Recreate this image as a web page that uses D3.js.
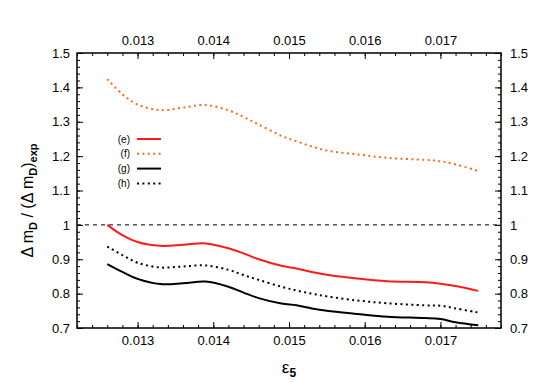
<!DOCTYPE html>
<html>
<head>
<meta charset="utf-8">
<script src="https://cdn.jsdelivr.net/npm/d3@7"></script>
<style>
  body { margin: 0; background: #fff; }
  svg { font-family: "Liberation Sans", Arial, sans-serif; }
</style>
</head>
<body>
<div id="chart"></div>
<script>
// data
const eps5 = [0.0126, 0.0128, 0.0130, 0.0133, 0.0136, 0.0139, 0.0142, 0.0144, 0.0146,
              0.0149, 0.0151, 0.0153, 0.0155, 0.0159, 0.0163, 0.0168, 0.0170, 0.0172, 0.0175];
const seriesE = [1.000, 0.970, 0.950, 0.939, 0.942, 0.946, 0.932, 0.917, 0.900,
                 0.881, 0.873, 0.863, 0.855, 0.844, 0.836, 0.833, 0.829, 0.822, 0.808];
const seriesF = [1.424, 1.380, 1.350, 1.334, 1.341, 1.349, 1.333, 1.314, 1.292,
                 1.259, 1.243, 1.228, 1.216, 1.205, 1.195, 1.189, 1.185, 1.176, 1.157];
const seriesG = [0.886, 0.863, 0.843, 0.828, 0.830, 0.835, 0.820, 0.803, 0.787,
                 0.771, 0.766, 0.757, 0.750, 0.741, 0.733, 0.729, 0.726, 0.717, 0.708];
const seriesH = [0.937, 0.912, 0.890, 0.876, 0.879, 0.882, 0.869, 0.854, 0.840,
                 0.820, 0.809, 0.800, 0.792, 0.780, 0.772, 0.766, 0.765, 0.757, 0.745];
const legendLabels = ["(e)", "(f)", "(g)", "(h)"];
const xTicks = [0.013, 0.014, 0.015, 0.016, 0.017];
const yTicks = [0.7, 0.8, 0.9, 1, 1.1, 1.2, 1.3, 1.4, 1.5];

const width = 545, height = 382;
const margin = { top: 53, right: 44, bottom: 54, left: 77 };
const w = width - margin.left - margin.right;
const h = height - margin.top - margin.bottom;

const svg = d3.select("#chart").append("svg")
    .attr("width", width)
    .attr("height", height);
const g = svg.append("g").attr("transform", `translate(${margin.left},${margin.top})`);

const x = d3.scaleLinear().domain([0.0122, 0.0178]).range([0, w]);
const y = d3.scaleLinear().domain([0.7, 1.5]).range([h, 0]);

const xMinor = d3.range(0.0122, 0.01781, 0.0002);
const yMinor = d3.range(0.7, 1.5001, 0.02);

function styleAxis(sel) {
    sel.select(".domain").remove();
    sel.selectAll("line").attr("stroke", "#000").attr("stroke-width", 1);
    sel.selectAll("text").style("font-size", "13px").attr("fill", "#000");
}

// minor ticks
g.append("g").attr("transform", `translate(0,${h})`)
    .call(d3.axisBottom(x).tickValues(xMinor).tickSize(-3).tickFormat("")).call(styleAxis);
g.append("g")
    .call(d3.axisTop(x).tickValues(xMinor).tickSize(-3).tickFormat("")).call(styleAxis);
g.append("g")
    .call(d3.axisLeft(y).tickValues(yMinor).tickSize(-3).tickFormat("")).call(styleAxis);
g.append("g").attr("transform", `translate(${w},0)`)
    .call(d3.axisRight(y).tickValues(yMinor).tickSize(-3).tickFormat("")).call(styleAxis);

// major ticks
g.append("g").attr("transform", `translate(0,${h})`)
    .call(d3.axisBottom(x).tickValues(xTicks).tickSize(-6).tickPadding(8).tickFormat(d3.format(".3f")))
    .call(styleAxis);
g.append("g")
    .call(d3.axisTop(x).tickValues(xTicks).tickSize(-6).tickPadding(8).tickFormat(d3.format(".3f")))
    .call(styleAxis);
g.append("g")
    .call(d3.axisLeft(y).tickValues(yTicks).tickSize(-6).tickPadding(7).tickFormat(d3.format("~g")))
    .call(styleAxis);
g.append("g").attr("transform", `translate(${w},0)`)
    .call(d3.axisRight(y).tickValues(yTicks).tickSize(-6).tickPadding(9).tickFormat(d3.format("~g")))
    .call(styleAxis);

// frame
g.append("rect")
    .attr("width", w).attr("height", h)
    .attr("fill", "none").attr("stroke", "#000").attr("stroke-width", 1.5);

// reference line at 1
g.append("line")
    .attr("x1", 0).attr("x2", w)
    .attr("y1", y(1)).attr("y2", y(1))
    .attr("stroke", "#000").attr("stroke-width", 1)
    .attr("stroke-dasharray", "4,4");

const series = [
    { label: legendLabels[0], values: seriesE, color: "#ff1a1a", dash: null },
    { label: legendLabels[1], values: seriesF, color: "#ff6a1a", dash: "2,3.4" },
    { label: legendLabels[2], values: seriesG, color: "#000", dash: null },
    { label: legendLabels[3], values: seriesH, color: "#000", dash: "2,3.4" }
];

const line = d3.line()
    .x((d, i) => x(eps5[i]))
    .y(d => y(d))
    .curve(d3.curveCatmullRom.alpha(0.5));

series.forEach(s => {
    g.append("path")
        .datum(s.values)
        .attr("fill", "none")
        .attr("stroke", s.color)
        .attr("stroke-width", 2)
        .attr("stroke-dasharray", s.dash)
        .attr("d", line);
});

// legend
const legend = svg.append("g").attr("transform", "translate(130,139)");
series.forEach((s, i) => {
    const row = legend.append("g").attr("transform", `translate(0,${i * 14.8})`);
    row.append("text")
        .attr("x", 0).attr("dy", "0.35em")
        .attr("text-anchor", "end")
        .style("font-size", "10px")
        .text(s.label);
    row.append("line")
        .attr("x1", 7).attr("x2", 31)
        .attr("stroke", s.color)
        .attr("stroke-width", 2)
        .attr("stroke-dasharray", s.dash);
});

// axis titles
const xt = svg.append("text")
    .attr("x", margin.left + w / 2)
    .attr("y", 373)
    .attr("text-anchor", "middle")
    .style("font-size", "17px");
xt.append("tspan").text("ε");
xt.append("tspan").attr("dy", 4).style("font-size", "12px").style("font-weight", "bold").text("5");

const yt = svg.append("text")
    .attr("transform", `translate(33,${margin.top + h / 2 + 10}) rotate(-90)`)
    .attr("text-anchor", "middle")
    .style("font-size", "16px")
    .style("font-weight", "bold");
yt.append("tspan").style("font-weight", "normal").text("Δ m");
yt.append("tspan").attr("dy", 4).style("font-size", "11px").text("D");
yt.append("tspan").attr("dy", -4).style("font-weight", "normal").text(" / (Δ m");
yt.append("tspan").attr("dy", 4).style("font-size", "11px").text("D");
yt.append("tspan").attr("dy", -4).style("font-weight", "normal").text(")");
yt.append("tspan").attr("dy", 4).style("font-size", "11px").text("exp");
</script>
</body>
</html>
